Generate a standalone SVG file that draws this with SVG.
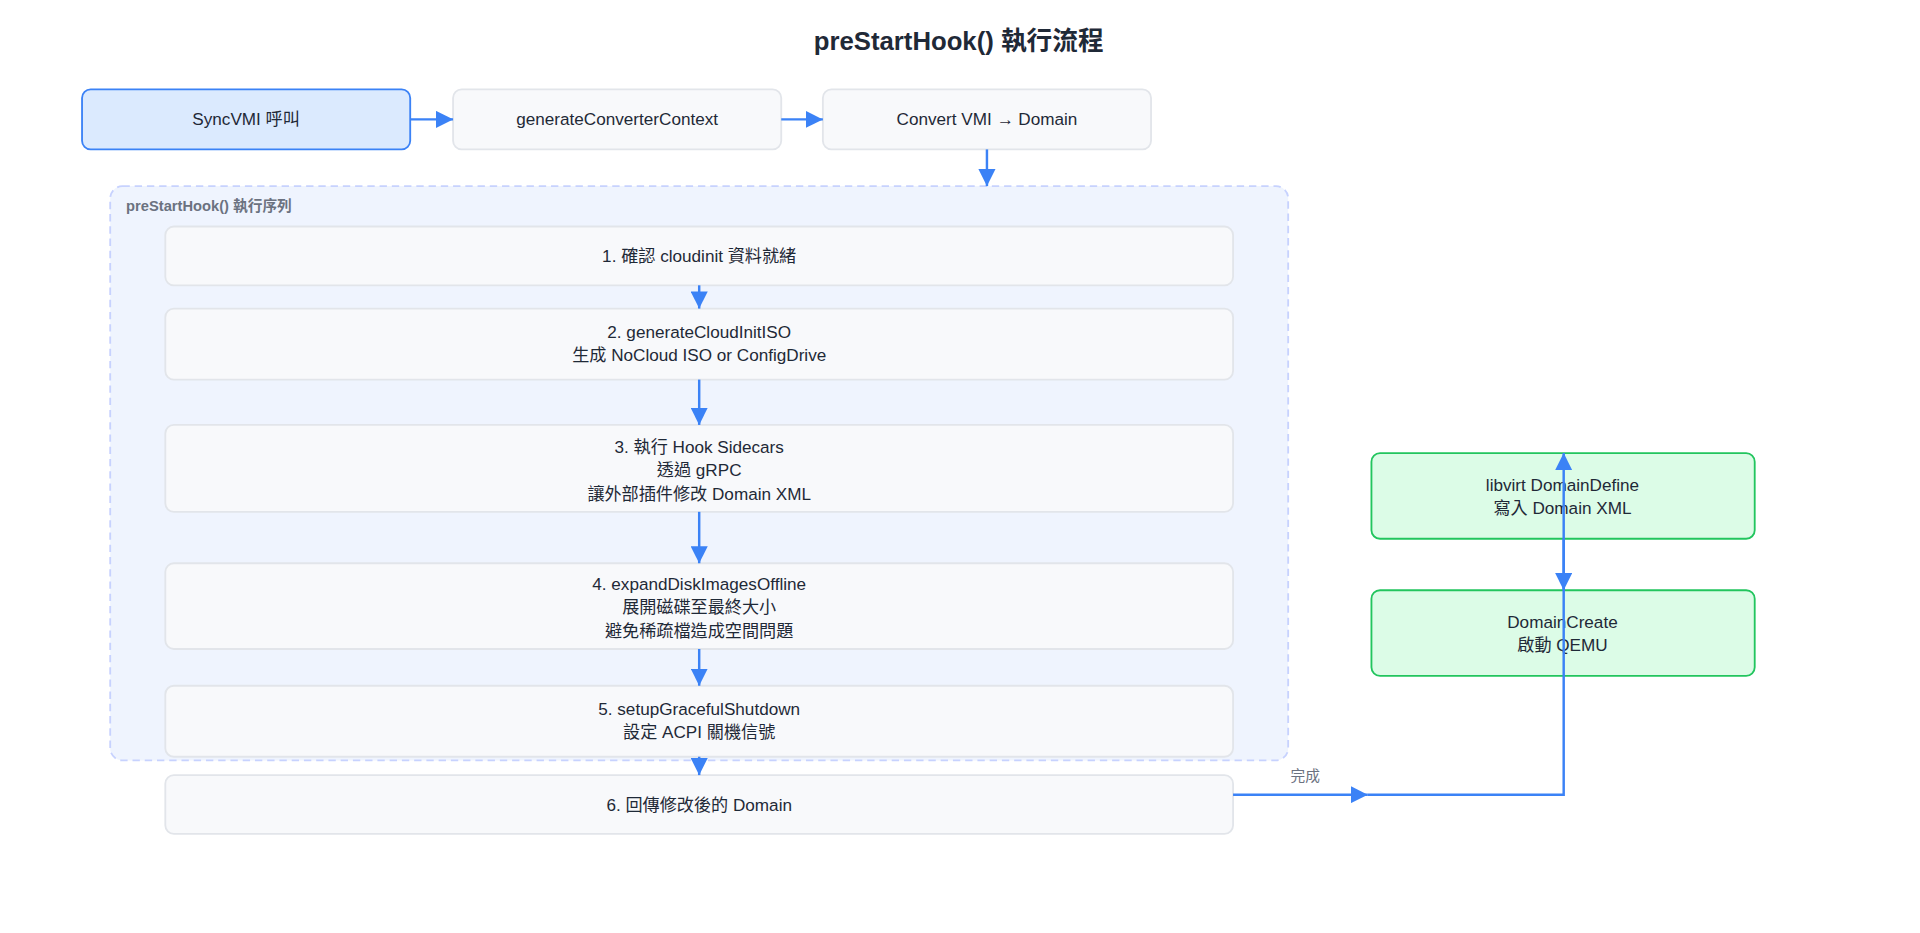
<svg xmlns="http://www.w3.org/2000/svg" width="1920" height="933" viewBox="0 0 1920 933">
<style>
text{font-family:"Liberation Sans","Noto Sans CJK TC",sans-serif;fill:#1f2937;font-size:14px;text-anchor:middle}
.box{fill:#f8f9fb;stroke:#e2e5ea;stroke-width:1.5}
.blue{fill:#dbeafe;stroke:#3b82f6;stroke-width:1.5}
.green{fill:#dcfce7;stroke:#22c55e;stroke-width:1.5}
.c{stroke:#3b82f6;stroke-width:2;fill:none}
</style>
<defs>
<marker id="b" viewBox="0 0 10 10" refX="10" refY="5" markerWidth="14" markerHeight="14" markerUnits="userSpaceOnUse" orient="auto"><path d="M0,0L10,5L0,10z" fill="#3b82f6"/></marker></defs>
<rect width="1920" height="933" fill="#fff"/>
<g transform="scale(1.2245)">
<text x="783" y="41" style="font-size:21px;font-weight:700">preStartHook() 執行流程</text>
<g id="group"><rect x="90" y="152" width="962" height="469" rx="10" fill="#eff4fe" stroke="#c7d2fe" stroke-width="1.5" stroke-dasharray="6 4"/>
<text x="103" y="172" style="text-anchor:start;font-size:12px;font-weight:600;fill:#6b7280">preStartHook() 執行序列</text></g>
<g id="sync"><rect class="blue" x="67" y="73" width="268" height="49" rx="7"/><text x="201" y="102">SyncVMI 呼叫</text></g>
<g id="gen"><rect class="box" x="370" y="73" width="268" height="49" rx="7"/><text x="504" y="102">generateConverterContext</text></g>
<g id="conv"><rect class="box" x="672" y="73" width="268" height="49" rx="7"/><text x="806" y="102">Convert VMI → Domain</text></g>
<g id="s1"><rect class="box" x="135" y="185" width="872" height="48" rx="7"/><text x="571" y="214">1. 確認 cloudinit 資料就緒</text></g>
<g id="s2"><rect class="box" x="135" y="252" width="872" height="58" rx="7"/><text x="571" y="276">2. generateCloudInitISO</text><text x="571" y="295">生成 NoCloud ISO or ConfigDrive</text></g>
<g id="s3"><rect class="box" x="135" y="347" width="872" height="71" rx="7"/><text x="571" y="370">3. 執行 Hook Sidecars</text><text x="571" y="389">透過 gRPC</text><text x="571" y="408">讓外部插件修改 Domain XML</text></g>
<g id="s4"><rect class="box" x="135" y="460" width="872" height="70" rx="7"/><text x="571" y="482">4. expandDiskImagesOffline</text><text x="571" y="501">展開磁碟至最終大小</text><text x="571" y="520">避免稀疏檔造成空間問題</text></g>
<g id="s5"><rect class="box" x="135" y="560" width="872" height="58" rx="7"/><text x="571" y="584">5. setupGracefulShutdown</text><text x="571" y="603">設定 ACPI 關機信號</text></g>
<g id="s6"><rect class="box" x="135" y="633" width="872" height="48" rx="7"/><text x="571" y="662">6. 回傳修改後的 Domain</text></g>
<g id="def"><rect class="green" x="1120" y="370" width="313" height="70" rx="7"/><text x="1276" y="401">libvirt DomainDefine</text><text x="1276" y="420">寫入 Domain XML</text></g>
<g id="create"><rect class="green" x="1120" y="482" width="313" height="70" rx="7"/><text x="1276" y="513">DomainCreate</text><text x="1276" y="532">啟動 QEMU</text></g>
<g id="connectors">
<path class="c" d="M335,97.5H370" marker-end="url(#b)"/>
<path class="c" d="M638,97.5H672" marker-end="url(#b)"/>
<path class="c" d="M806,122V152" marker-end="url(#b)"/>
<path class="c" d="M571,233V252" marker-end="url(#b)"/>
<path class="c" d="M571,310V347" marker-end="url(#b)"/>
<path class="c" d="M571,418V460" marker-end="url(#b)"/>
<path class="c" d="M571,530V560" marker-end="url(#b)"/>
<path class="c" d="M571,618V633" marker-end="url(#b)"/>
<path class="c" d="M1007,649H1117" marker-end="url(#b)"/>
<path class="c" d="M1117,649H1277V370" marker-end="url(#b)"/>
<path class="c" d="M1277,440V482" marker-end="url(#b)"/>
<text x="1066" y="638" style="font-size:12px;fill:#6b7280">完成</text>
</g>
</g>
</svg>
